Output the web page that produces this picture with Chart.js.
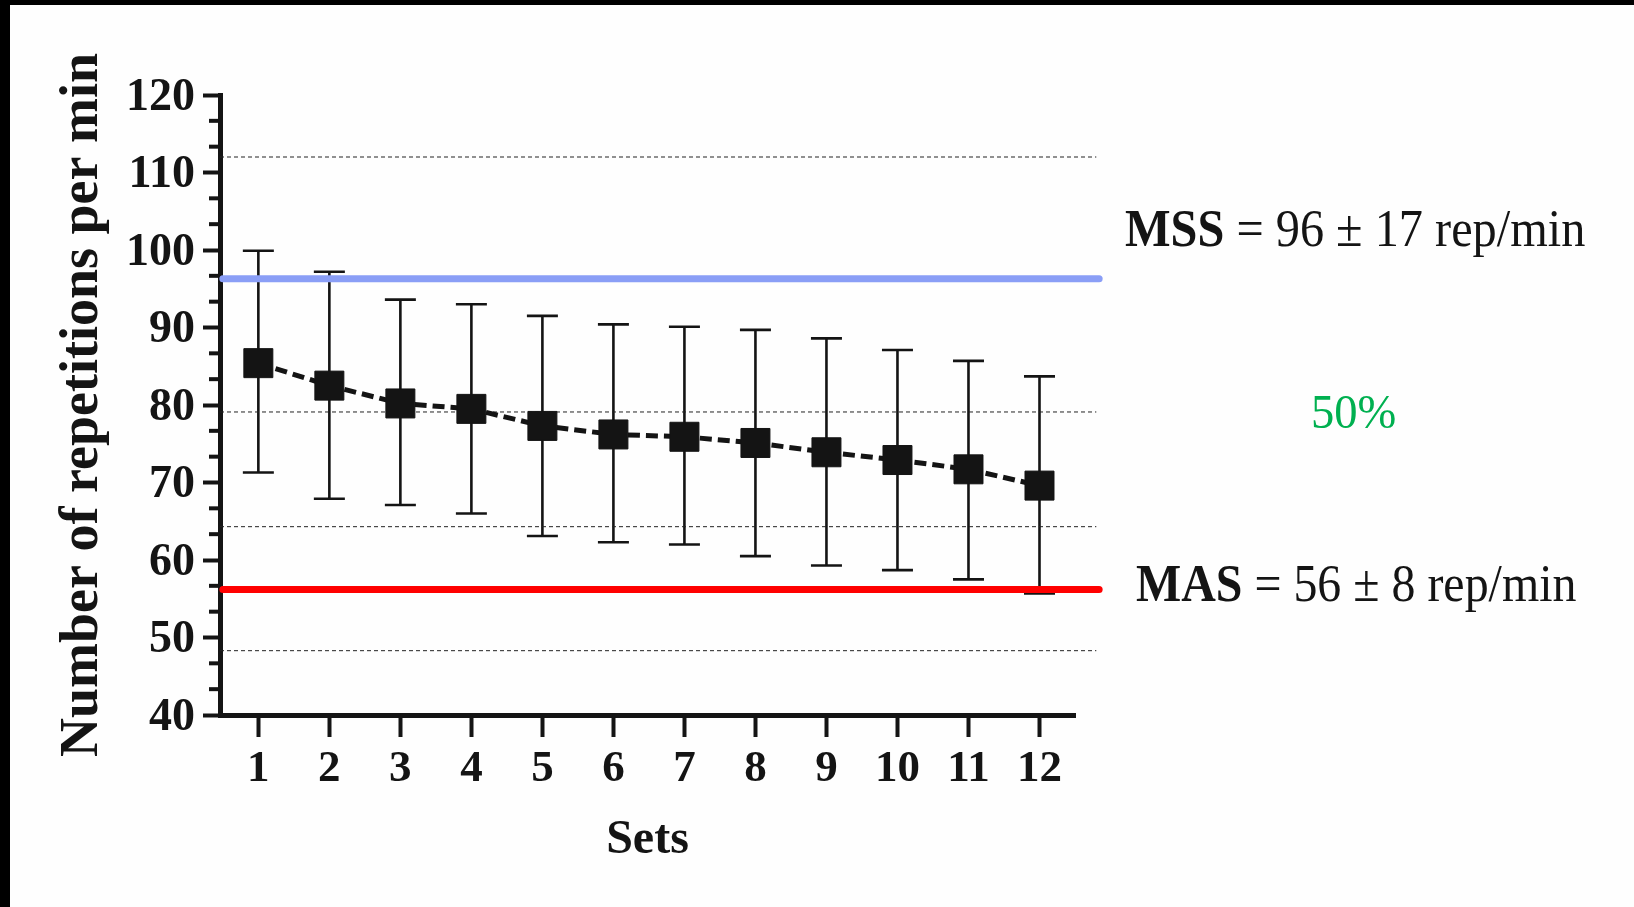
<!DOCTYPE html>
<html>
<head>
<meta charset="utf-8">
<script src="https://cdn.jsdelivr.net/npm/chart.js@4.4.1/dist/chart.umd.min.js"></script>
<style>
  html, body { margin:0; padding:0; background:#fefefe; }
  #wrap { position:absolute; left:0; top:0; width:1634px; height:907px; }
  .strip { position:absolute; background:#000; }
</style>
</head>
<body>
<div id="wrap"><canvas id="c" width="1634" height="907"></canvas></div>
<div class="strip" style="left:0;top:0;width:10px;height:907px"></div>
<div class="strip" style="left:0;top:0;width:1634px;height:5px"></div>
<script>
// ---- data ----
const sets      = [1, 2, 3, 4, 5, 6, 7, 8, 9, 10, 11, 12];
const meanReps  = [85.4, 82.5, 80.2, 79.5, 77.3, 76.2, 75.9, 75.1, 73.9, 72.9, 71.7, 69.6];
const upperReps = [99.9, 97.2, 93.6, 93.0, 91.5, 90.4, 90.1, 89.7, 88.6, 87.1, 85.7, 83.7];
const lowerReps = [71.3, 67.9, 67.1, 66.0, 63.1, 62.3, 62.0, 60.5, 59.3, 58.7, 57.5, 55.7];
const yTickValues = [40, 50, 60, 70, 80, 90, 100, 110, 120];
const mssLevel = 96.3;   // MSS = 96 ± 17
const masLevel = 56.2;   // MAS = 56 ± 8
const zoneLimits = [112.0, 79.1, 64.3, 48.3];
const mssText = { bold: 'MSS', rest: ' = 96 \u00B1 17 rep/min' };
const masText = { bold: 'MAS', rest: ' = 56 \u00B1 8 rep/min' };
const midText = '50%';
const xTitle = 'Sets';
const yTitle = 'Number of repetitions per min';

const FONT = '"Liberation Serif", "Times New Roman", serif';
const INK = '#141414';

const axisMin = 0.46, axisMax = 12.5;
const lineFrom = 0.5, lineTo = 12.84, dashTo = 12.80;

const datasets = [
  {
    data: sets.map((s, i) => ({ x: s, y: meanReps[i] })),
    borderColor: INK, borderWidth: 5, borderDash: [12, 6],
    pointStyle: 'rect', pointRadius: 20.5, pointBackgroundColor: INK,
    pointBorderColor: INK, pointBorderWidth: 1, tension: 0
  },
  {
    data: [{ x: lineFrom, y: mssLevel }, { x: lineTo, y: mssLevel }],
    borderColor: '#8a9ef6', borderWidth: 7, borderCapStyle: 'round',
    pointRadius: 0, clip: false
  },
  {
    data: [{ x: lineFrom, y: masLevel }, { x: lineTo, y: masLevel }],
    borderColor: '#ff0000', borderWidth: 7, borderCapStyle: 'round',
    pointRadius: 0, clip: false
  }
];
zoneLimits.forEach(v => datasets.push({
  data: [{ x: axisMin, y: v }, { x: dashTo, y: v }],
  borderColor: '#222', borderWidth: 1, borderDash: [4, 3],
  pointRadius: 0, clip: false
}));

const errorBars = {
  id: 'errorBars',
  beforeDatasetsDraw(chart) {
    const { ctx, scales: { x, y } } = chart;
    ctx.save();
    ctx.strokeStyle = INK; ctx.lineWidth = 2.6; ctx.lineCap = 'butt';
    sets.forEach((s, i) => {
      const px = x.getPixelForValue(s);
      const pt = y.getPixelForValue(upperReps[i]);
      const pb = y.getPixelForValue(lowerReps[i]);
      ctx.beginPath();
      ctx.moveTo(px, pt); ctx.lineTo(px, pb);
      ctx.moveTo(px - 15.5, pt); ctx.lineTo(px + 15.5, pt);
      ctx.moveTo(px - 15.5, pb); ctx.lineTo(px + 15.5, pb);
      ctx.stroke();
    });
    ctx.restore();
  }
};

const minorTicks = {
  id: 'minorTicks',
  afterDraw(chart) {
    const { ctx, scales: { y } } = chart;
    ctx.save();
    ctx.strokeStyle = INK; ctx.lineWidth = 4;
    for (let k = 0; k < yTickValues.length - 1; k++) {
      const a = yTickValues[k], b = yTickValues[k + 1];
      [a + (b - a) / 3, a + 2 * (b - a) / 3].forEach(v => {
        const py = y.getPixelForValue(v);
        ctx.beginPath(); ctx.moveTo(y.right - 11, py); ctx.lineTo(y.right - 2, py); ctx.stroke();
      });
    }
    ctx.restore();
  }
};

function drawMixed(ctx, x, y, parts, size, sx, color) {
  ctx.save();
  ctx.translate(x, y); ctx.scale(sx, 1);
  ctx.fillStyle = color; ctx.textBaseline = 'alphabetic'; ctx.textAlign = 'left';
  let cx = 0;
  parts.forEach(p => {
    ctx.font = (p.b ? 'bold ' : '') + size + 'px ' + FONT;
    ctx.fillText(p.t, cx, 0);
    cx += ctx.measureText(p.t).width;
  });
  ctx.restore();
}

const annotations = {
  id: 'annotations',
  afterDraw(chart) {
    const ctx = chart.ctx;
    drawMixed(ctx, 1125, 246, [{ t: mssText.bold, b: true }, { t: mssText.rest }], 52, 0.929, INK);
    drawMixed(ctx, 1136, 601, [{ t: masText.bold, b: true }, { t: masText.rest }], 52, 0.921, INK);
    drawMixed(ctx, 1311, 428, [{ t: midText }], 49, 0.95, '#00b050');
  }
};

new Chart(document.getElementById('c'), {
  type: 'line',
  data: { datasets },
  plugins: [errorBars, minorTicks, annotations],
  options: {
    responsive: false, animation: false,
    layout: { padding: { left: 0, top: 95, right: 559, bottom: 0 } },
    plugins: { legend: { display: false }, tooltip: { enabled: false } },
    scales: {
      x: {
        type: 'linear', min: axisMin, max: axisMax,
        afterBuildTicks: s => { s.ticks = sets.map(v => ({ value: v })); },
        afterFit: s => { s.height = 192; },
        grid: { drawOnChartArea: false, tickLength: 22, tickWidth: 4, tickColor: INK },
        border: { color: INK, width: 5 },
        ticks: { color: INK, padding: 5, font: { family: FONT, size: 45, weight: 'bold' } },
        title: { display: true, text: xTitle, color: INK, padding: { top: 0, bottom: 38 },
                 font: { family: FONT, size: 48, weight: 'bold' } }
      },
      y: {
        type: 'linear', min: 40, max: 120,
        afterBuildTicks: s => { s.ticks = yTickValues.map(v => ({ value: v })); },
        afterFit: s => { s.width = 220; },
        grid: { drawOnChartArea: false, tickLength: 17, tickWidth: 4, tickColor: INK },
        border: { color: INK, width: 5 },
        ticks: { color: INK, padding: 8, labelOffset: 3, font: { family: FONT, size: 46, weight: 'bold' } },
        title: { display: true, text: yTitle, color: INK, padding: { top: 51, bottom: 0 },
                 font: { family: FONT, size: 54, weight: 'bold' } }
      }
    }
  }
});
</script>
</body>
</html>
